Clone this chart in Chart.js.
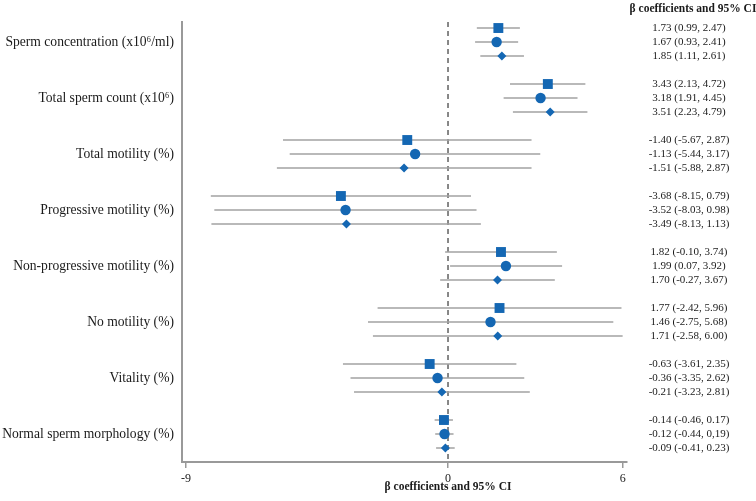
<!DOCTYPE html>
<html>
<head>
<meta charset="utf-8">
<script src="https://cdn.jsdelivr.net/npm/chart.js@4"></script>
<style>
  html, body { margin: 0; padding: 0; background: #fff; }
  #wrap { width: 756px; height: 501px; }
</style>
</head>
<body>
<div id="wrap"><canvas id="forest" width="756" height="501"></canvas></div>
<script>
// outcomes (top to bottom)
const categories = [
  "Sperm concentration (x10\u2076/ml)",
  "Total sperm count (x10\u2076)",
  "Total motility (%)",
  "Progressive motility (%)",
  "Non-progressive motility (%)",
  "No motility (%)",
  "Vitality (%)",
  "Normal sperm morphology (%)"
];

// model 1 (square)
const est1 = [1.73, 3.43, -1.40, -3.68, 1.82, 1.77, -0.63, -0.14];
const lo1  = [0.99, 2.13, -5.67, -8.15, -0.10, -2.42, -3.61, -0.46];
const hi1  = [2.47, 4.72, 2.87, 0.79, 3.74, 5.96, 2.35, 0.17];

// model 2 (circle)
const est2 = [1.67, 3.18, -1.13, -3.52, 1.99, 1.46, -0.36, -0.12];
const lo2  = [0.93, 1.91, -5.44, -8.03, 0.07, -2.75, -3.35, -0.44];
const hi2  = [2.41, 4.45, 3.17, 0.98, 3.92, 5.68, 2.62, 0.19];

// model 3 (diamond)
const est3 = [1.85, 3.51, -1.51, -3.49, 1.70, 1.71, -0.21, -0.09];
const lo3  = [1.11, 2.23, -5.88, -8.13, -0.27, -2.58, -3.23, -0.41];
const hi3  = [2.61, 4.79, 2.87, 1.13, 3.67, 6.00, 2.81, 0.23];

// text column, as printed
const ciText = [
  ["1.73 (0.99, 2.47)", "1.67 (0.93, 2.41)", "1.85 (1.11, 2.61)"],
  ["3.43 (2.13, 4.72)", "3.18 (1.91, 4.45)", "3.51 (2.23, 4.79)"],
  ["-1.40 (-5.67, 2.87)", "-1.13 (-5.44, 3.17)", "-1.51 (-5.88, 2.87)"],
  ["-3.68 (-8.15, 0.79)", "-3.52 (-8.03, 0.98)", "-3.49 (-8.13, 1.13)"],
  ["1.82 (-0.10, 3.74)", "1.99 (0.07, 3.92)", "1.70 (-0.27, 3.67)"],
  ["1.77 (-2.42, 5.96)", "1.46 (-2.75, 5.68)", "1.71 (-2.58, 6.00)"],
  ["-0.63 (-3.61, 2.35)", "-0.36 (-3.35, 2.62)", "-0.21 (-3.23, 2.81)"],
  ["-0.14 (-0.46, 0.17)", "-0.12 (-0.44, 0,19)", "-0.09 (-0.41, 0.23)"]
];

const xTicks = [-9, 0, 6];
const axisTitle = "\u03b2 coefficients and 95% CI";

// ==============================
// helpers
// ==============================
const Y_MIN = -0.43;
const Y_MAX = 31;
const rowY = (g, k) => g * 4 + k;

function points(est, k) {
  return est.map((v, g) => ({ x: v, y: rowY(g, k) }));
}

function ciSegments(lo, hi, k) {
  const out = [];
  lo.forEach((v, g) => {
    out.push({ x: v, y: rowY(g, k) });
    out.push({ x: hi[g], y: rowY(g, k) });
    out.push({ x: null, y: null });
  });
  return out;
}

const BLUE = "#1467b3";
const GREY = "#a3a3a3";
const SERIF = "'Liberation Serif', 'Times New Roman', serif";

// ==============================
// right-hand text + bottom title
// ==============================
const textPlugin = {
  id: "forestText",
  afterDraw(chart) {
    const ctx = chart.ctx;
    const y = chart.scales.y;
    const x = chart.scales.x;
    ctx.save();
    ctx.fillStyle = "#1a1a1a";
    ctx.textAlign = "center";
    ctx.textBaseline = "middle";
    ctx.font = "11px " + SERIF;
    ciText.forEach((rows, g) => {
      rows.forEach((t, k) => {
        ctx.fillText(t, 689, y.getPixelForValue(rowY(g, k)));
      });
    });
    ctx.font = "bold 11.5px " + SERIF;
    ctx.fillText(axisTitle, 693, 9);
    ctx.fillText(axisTitle, x.getPixelForValue(0), 487);
    ctx.restore();
  }
};

new Chart(document.getElementById("forest"), {
  type: "scatter",
  data: {
    datasets: [
      {
        data: points(est1, 0),
        pointStyle: "rect",
        pointRadius: 7,
        backgroundColor: BLUE,
        borderWidth: 0
      },
      {
        data: points(est2, 1),
        pointStyle: "circle",
        pointRadius: 5.2,
        backgroundColor: BLUE,
        borderWidth: 0
      },
      {
        data: points(est3, 2),
        pointStyle: "rectRot",
        pointRadius: 4.5,
        backgroundColor: BLUE,
        borderWidth: 0
      },
      {
        type: "line",
        data: [...ciSegments(lo1, hi1, 0), ...ciSegments(lo2, hi2, 1), ...ciSegments(lo3, hi3, 2)],
        borderColor: GREY,
        borderWidth: 1.4,
        pointRadius: 0,
        spanGaps: false,
        fill: false
      },
      {
        type: "line",
        data: [{ x: 0, y: Y_MIN }, { x: 0, y: Y_MAX }],
        borderColor: "#555",
        borderWidth: 1.4,
        borderDash: [5, 4],
        pointRadius: 0,
        fill: false
      }
    ]
  },
  options: {
    responsive: false,
    animation: false,
    events: [],
    layout: { padding: { top: 22, right: 129, left: 0, bottom: 0 } },
    plugins: {
      legend: { display: false },
      tooltip: { enabled: false }
    },
    scales: {
      x: {
        type: "linear",
        min: -9.14,
        max: 6.15,
        afterBuildTicks: s => { s.ticks = xTicks.map(v => ({ value: v })); },
        afterFit: s => { s.height = 39; },
        grid: { drawOnChartArea: false, drawTicks: true, tickLength: 6, color: "#999", lineWidth: 1.5 },
        border: { color: "#999", width: 2 },
        ticks: { color: "#1a1a1a", font: { family: SERIF, size: 12 }, padding: 4 }
      },
      y: {
        type: "linear",
        reverse: true,
        min: Y_MIN,
        max: Y_MAX,
        afterBuildTicks: s => { s.ticks = categories.map((c, i) => ({ value: rowY(i, 1) })); },
        afterFit: s => { s.width = 182; },
        grid: { display: false, drawTicks: false },
        border: { color: "#999", width: 2 },
        ticks: {
          color: "#1a1a1a",
          font: { family: SERIF, size: 13.6 },
          padding: 8,
          callback: v => categories[Math.round((v - 1) / 4)]
        }
      }
    }
  },
  plugins: [textPlugin]
});
</script>
</body>
</html>
